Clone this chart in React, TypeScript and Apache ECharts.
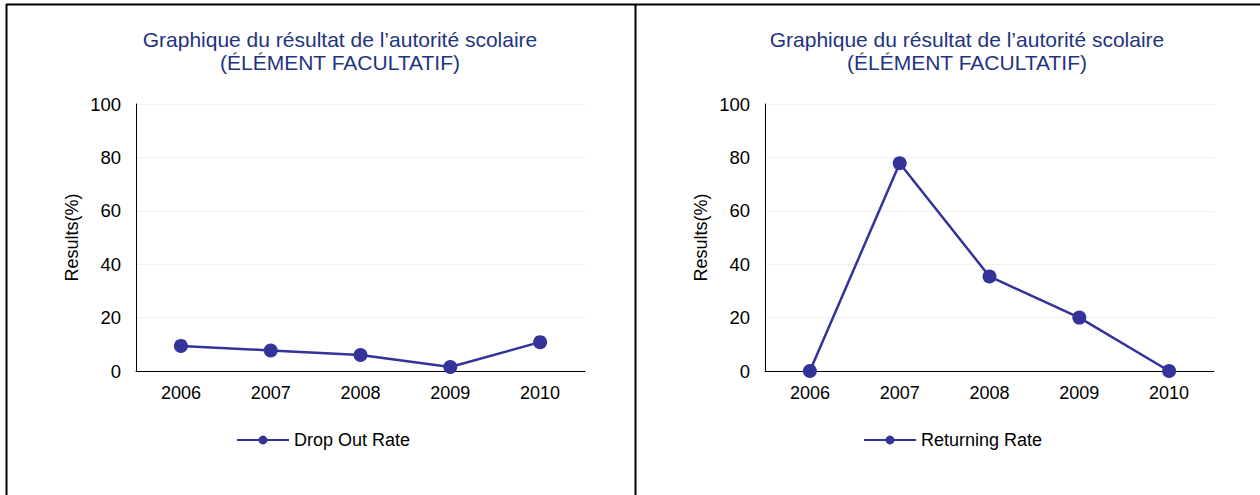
import React, { useEffect, useRef } from "react";
import * as echarts from "echarts";

const years = ["2006", "2007", "2008", "2009", "2010"];
const dropOutRate = [9.4, 7.7, 6.0, 1.5, 10.8];
const returningRate = [0, 77.8, 35.4, 20.0, 0];
const titleLines = ["Graphique du résultat de l’autorité scolaire", "(ÉLÉMENT FACULTATIF)"];
const yAxisName = "Results(%)";
const seriesNames = ["Drop Out Rate", "Returning Rate"];

const FONT = "'Liberation Sans', Arial, sans-serif";
const LINE_COLOR = "#333399";
const TITLE_COLOR = "#1F3480";

export default function App() {
  const ref = useRef<HTMLDivElement>(null);
  useEffect(() => {
    if (!ref.current) return;
    const chart = echarts.init(ref.current, null, { renderer: "svg" });
    const panels = [
      { gridLeft: 136, gridRight: 1260 - 585, titleX: 335, legendLeft: 236, data: dropOutRate, name: seriesNames[0] },
      { gridLeft: 765, gridRight: 1260 - 1214, titleX: 962, legendLeft: 863, data: returningRate, name: seriesNames[1] },
    ];
    const option: any = {
      animation: false,
      backgroundColor: "#ffffff",
      textStyle: { fontFamily: FONT },
      title: panels.map((p) => ({
        text: titleLines.join("\n"),
        left: p.titleX,
        top: 23,
        textAlign: "center",
        textStyle: { color: TITLE_COLOR, fontSize: 21, fontWeight: "normal", fontFamily: FONT, lineHeight: 23 },
      })),
      legend: panels.map((p) => ({
        data: [p.name],
        left: p.legendLeft,
        top: 431,
        orient: "horizontal",
        itemWidth: 52,
        itemHeight: 11,
        itemGap: 6,
        padding: 0,
        textStyle: { fontSize: 18, color: "#000", fontFamily: FONT },
      })),
      grid: panels.map((p) => ({ left: p.gridLeft, right: p.gridRight, top: 104, bottom: 495 - 371, containLabel: false })),
      xAxis: panels.map((p, i) => ({
        type: "category",
        gridIndex: i,
        data: years,
        boundaryGap: true,
        axisLine: { show: true, lineStyle: { color: "#000", width: 1 } },
        axisTick: { show: false },
        axisLabel: { color: "#000", fontSize: 18, margin: 13, fontFamily: FONT },
        splitLine: { show: false },
      })),
      yAxis: panels.map((p, i) => ({
        type: "value",
        gridIndex: i,
        min: 0,
        max: 100,
        interval: 20,
        name: yAxisName,
        nameLocation: "middle",
        nameGap: 55,
        nameRotate: 90,
        nameTextStyle: { color: "#000", fontSize: 18, fontFamily: FONT },
        axisLine: { show: true, lineStyle: { color: "#000", width: 1 } },
        axisTick: { show: false },
        axisLabel: { color: "#000", fontSize: 18.5, margin: 15, fontFamily: FONT },
        splitLine: { show: true, lineStyle: { color: "#f0f0f0", width: 1 } },
      })),
      series: panels.map((p, i) => ({
        type: "line",
        name: p.name,
        xAxisIndex: i,
        yAxisIndex: i,
        data: p.data,
        symbol: "circle",
        symbolSize: 14,
        lineStyle: { color: LINE_COLOR, width: 2.5 },
        itemStyle: { color: LINE_COLOR },
      })),
      graphic: [
        { type: "line", shape: { x1: 6, y1: 4.5, x2: 1260, y2: 4.5 }, style: { stroke: "#000", lineWidth: 2 } },
        { type: "line", shape: { x1: 6.5, y1: 4, x2: 6.5, y2: 495 }, style: { stroke: "#000", lineWidth: 2 } },
        { type: "line", shape: { x1: 635.5, y1: 4, x2: 635.5, y2: 495 }, style: { stroke: "#000", lineWidth: 2 } },
      ],
    };
    chart.setOption(option);
    return () => chart.dispose();
  }, []);
  return <div ref={ref} style={{ position: "fixed", left: 0, top: 0, width: 1260, height: 495 }} />;
}
